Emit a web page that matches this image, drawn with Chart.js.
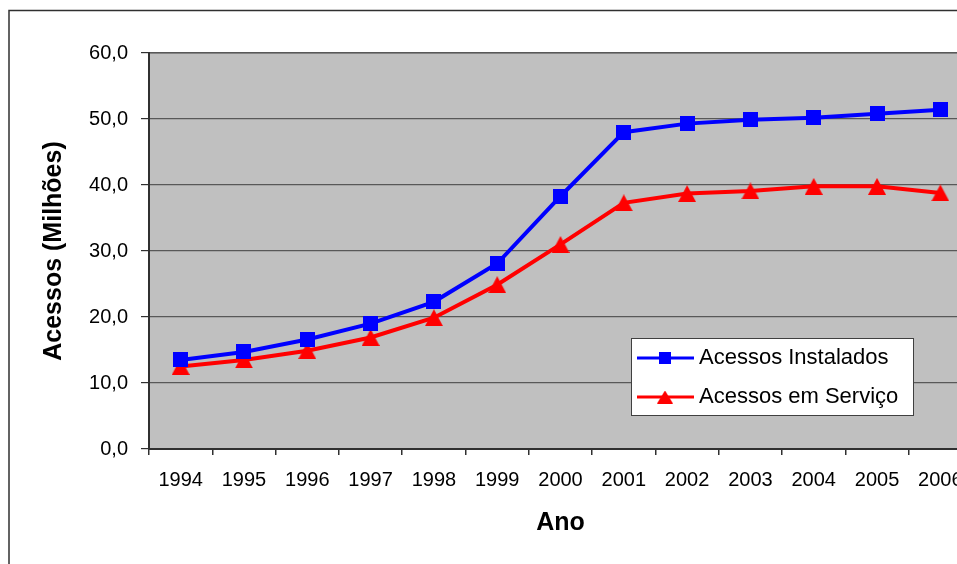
<!DOCTYPE html>
<html>
<head>
<meta charset="utf-8">
<script src="https://cdn.jsdelivr.net/npm/chart.js@4/dist/chart.umd.min.js"></script>
<style>
  html, body { margin: 0; padding: 0; background: #ffffff; width: 957px; height: 564px; overflow: hidden; }
  #wrap { position: absolute; left: 0; top: 0; width: 1000px; height: 600px; }
  canvas { display: block; }
</style>
</head>
<body>
<div id="wrap"><canvas id="grafico" width="1000" height="600"></canvas></div>
<script>
// Anos e séries (milhões de acessos)
const anos = ['1994', '1995', '1996', '1997', '1998', '1999', '2000', '2001', '2002', '2003', '2004', '2005', '2006'];
const acessosInstalados = [13.5, 14.7, 16.6, 19.0, 22.3, 28.1, 38.3, 48.0, 49.3, 49.9, 50.2, 50.8, 51.4];
const acessosEmServico = [12.5, 13.5, 14.9, 16.9, 19.9, 24.9, 31.0, 37.3, 38.7, 39.1, 39.8, 39.8, 38.8];
const escalaY = { min: 0, max: 60, passo: 10 };

const FONTE = '"Liberation Sans", Arial, sans-serif';

// Marcadores desenhados em pequenos canvas (centrados no ponto)
function marcador(forma, w, h, cor) {
  const c = document.createElement('canvas');
  c.width = w; c.height = h;
  const g = c.getContext('2d');
  g.fillStyle = cor;
  if (forma === 'quadrado') {
    g.fillRect(0, 0, w, h);
  } else {
    g.beginPath();
    g.moveTo(w / 2, 0);
    g.lineTo(w, h);
    g.lineTo(0, h);
    g.closePath();
    g.fill();
  }
  return c;
}

const mQuadrado = marcador('quadrado', 15, 15, '#0000ff');
const mTriangulo = marcador('triangulo', 18, 17, '#ff0000');
const lQuadrado = marcador('quadrado', 12, 12, '#0000ff');
const lTriangulo = marcador('triangulo', 16, 13, '#ff0000');

// Fundo, moldura externa e área de plotagem cinza
const fundo = {
  id: 'fundo',
  beforeDraw(chart) {
    const { ctx, chartArea: a } = chart;
    ctx.save();
    ctx.fillStyle = '#ffffff';
    ctx.fillRect(0, 0, chart.width, chart.height);
    ctx.strokeStyle = '#303030';
    ctx.lineWidth = 1.5;
    ctx.strokeRect(9, 10.5, chart.width + 40, chart.height + 40);
    ctx.fillStyle = '#c0c0c0';
    ctx.fillRect(a.left, a.top, a.right - a.left, a.bottom - a.top);
    ctx.strokeStyle = '#606060';
    ctx.lineWidth = 1;
    ctx.strokeRect(a.left, a.top, a.right - a.left, a.bottom - a.top);
    ctx.restore();
  }
};

// Legenda dentro da área de plotagem
const legenda = {
  id: 'legendaInterna',
  afterDatasetsDraw(chart) {
    const { ctx, chartArea: a } = chart;
    const x0 = a.left + 482, y0 = a.top + 285, w = 282, h = 77;
    const icones = [lQuadrado, lTriangulo];
    ctx.save();
    ctx.fillStyle = '#ffffff';
    ctx.fillRect(x0, y0, w, h);
    ctx.strokeStyle = '#404040';
    ctx.lineWidth = 1;
    ctx.strokeRect(x0 + 0.5, y0 + 0.5, w, h);
    chart.data.datasets.forEach((ds, i) => {
      const yc = y0 + 20 + i * 39;
      ctx.strokeStyle = ds.borderColor;
      ctx.lineWidth = 3;
      ctx.beginPath();
      ctx.moveTo(x0 + 6, yc);
      ctx.lineTo(x0 + 63, yc);
      ctx.stroke();
      const ic = icones[i];
      ctx.drawImage(ic, x0 + 34 - ic.width / 2, yc - ic.height / 2);
      ctx.fillStyle = '#000000';
      ctx.font = '22px ' + FONTE;
      ctx.textBaseline = 'middle';
      ctx.textAlign = 'left';
      ctx.fillText(ds.label, x0 + 68, yc);
    });
    ctx.restore();
  }
};

new Chart(document.getElementById('grafico'), {
  type: 'line',
  data: {
    labels: anos,
    datasets: [
      {
        label: 'Acessos Instalados',
        data: acessosInstalados,
        borderColor: '#0000ff',
        backgroundColor: '#0000ff',
        borderWidth: 4,
        pointStyle: mQuadrado,
        pointRadius: 8,
        tension: 0
      },
      {
        label: 'Acessos em Serviço',
        data: acessosEmServico,
        borderColor: '#ff0000',
        backgroundColor: '#ff0000',
        borderWidth: 4,
        pointStyle: mTriangulo,
        pointRadius: 8,
        tension: 0
      }
    ]
  },
  options: {
    responsive: false,
    animation: false,
    devicePixelRatio: 1,
    layout: { padding: { left: 20, top: 53, right: 28, bottom: 0 } },
    plugins: {
      legend: { display: false },
      tooltip: { enabled: false }
    },
    scales: {
      x: {
        type: 'category',
        offset: true,
        border: { color: '#303030', width: 2 },
        grid: { offset: true, drawOnChartArea: false, drawTicks: true, tickLength: 6, tickColor: '#303030', lineWidth: 1.5 },
        ticks: { color: '#000000', font: { family: FONTE, size: 20 }, padding: 13, maxRotation: 0, autoSkip: false },
        title: { display: true, text: 'Ano', color: '#000000', font: { family: FONTE, size: 25, weight: 'bold' }, padding: { top: 0, bottom: 61.6 } },
        afterFit(s) { s.height = 151; }
      },
      y: {
        min: escalaY.min,
        max: escalaY.max,
        border: { color: '#303030', width: 2 },
        grid: { color: '#585858', lineWidth: 1.2, drawTicks: true, tickLength: 8, tickColor: '#303030' },
        ticks: {
          stepSize: escalaY.passo,
          color: '#000000',
          font: { family: FONTE, size: 20 },
          padding: 13,
          callback: (v) => v.toFixed(1).replace('.', ',')
        },
        title: { display: true, text: 'Acessos (Milhões)', color: '#000000', font: { family: FONTE, size: 25, weight: 'bold' }, padding: { top: 19, bottom: 0 } },
        afterFit(s) { s.width = 129; }
      }
    }
  },
  plugins: [fundo, legenda]
});
</script>
</body>
</html>
